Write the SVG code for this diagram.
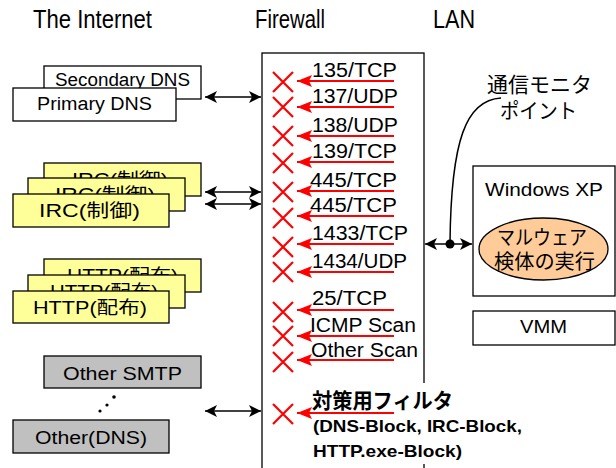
<svg xmlns="http://www.w3.org/2000/svg" xmlns:xlink="http://www.w3.org/1999/xlink" width="616" height="468" viewBox="0 0 616 468">
<style>
text{font-family:"Liberation Sans","Noto Sans CJK JP",sans-serif;fill:#000}
.title{font-size:25px}
.box{stroke:#000;stroke-width:1.3}
.w{fill:#fff}
.y{fill:#ffff99}
.g{fill:#c0c0c0}
.bt{font-size:18px;text-anchor:middle}
.lbl{font-size:20px}
.conn{stroke:#000;stroke-width:1.5;fill:none}
.red{stroke:#ff0000;stroke-width:2;fill:none}
</style>
<defs>
<marker id="ah" viewBox="0 0 12 12" refX="12" refY="6" markerWidth="12" markerHeight="12" markerUnits="userSpaceOnUse" orient="auto-start-reverse">
<path d="M0,0 L12,6 L0,12 L3,6 Z" fill="#000"/>
</marker>
<marker id="rh" viewBox="0 0 15 12" refX="15" refY="6" markerWidth="15" markerHeight="12" markerUnits="userSpaceOnUse" orient="auto">
<path d="M0,0 L15,6 L0,12 L3,6 Z" fill="#ff0000"/>
</marker>
<path id="xm" d="M-10,-10 L10,10 M10,-10 L-10,10" stroke="#ff0000" stroke-width="2.2" fill="none"/>
</defs>
<rect width="616" height="468" fill="#fff"/>

<g id="titles">
<text class="title" x="33" y="28" textLength="119" lengthAdjust="spacingAndGlyphs">The Internet</text>
<text class="title" x="255" y="28" textLength="70" lengthAdjust="spacingAndGlyphs">Firewall</text>
<text class="title" x="433" y="28" textLength="42" lengthAdjust="spacingAndGlyphs">LAN</text>
</g>

<g id="dns">
<rect class="box w" x="44" y="66" width="157" height="33"/>
<text class="bt" x="122.5" y="86" textLength="135" lengthAdjust="spacingAndGlyphs">Secondary DNS</text>
<rect class="box w" x="13" y="88" width="163" height="33"/>
<text class="bt" x="94.5" y="110" textLength="115" lengthAdjust="spacingAndGlyphs">Primary DNS</text>
</g>

<g id="irc">
<rect class="box y" x="44" y="163" width="157" height="33"/>
<text class="bt" x="120" y="186" textLength="96" lengthAdjust="spacingAndGlyphs">IRC(制御)</text>
<rect class="box y" x="28" y="178" width="157" height="33"/>
<text class="bt" x="105" y="201" textLength="100" lengthAdjust="spacingAndGlyphs">IRC(制御)</text>
<rect class="box y" x="13" y="194" width="156" height="33"/>
<text class="bt" x="89.5" y="217" textLength="101" lengthAdjust="spacingAndGlyphs">IRC(制御)</text>
</g>

<g id="http">
<rect class="box y" x="44" y="259" width="157" height="33"/>
<text class="bt" x="122.5" y="282" textLength="111" lengthAdjust="spacingAndGlyphs">HTTP(配布)</text>
<rect class="box y" x="28" y="275" width="157" height="33"/>
<text class="bt" x="104" y="298" textLength="108" lengthAdjust="spacingAndGlyphs">HTTP(配布)</text>
<rect class="box y" x="13" y="291" width="156" height="32"/>
<text class="bt" x="90" y="314" textLength="114" lengthAdjust="spacingAndGlyphs">HTTP(配布)</text>
</g>

<g id="other-smtp">
<rect class="box g" x="44" y="356" width="157" height="32"/>
<text class="bt" x="122.5" y="380" textLength="119" lengthAdjust="spacingAndGlyphs">Other SMTP</text>
</g>
<g id="ellipsis">
<circle cx="100" cy="411" r="1.6"/>
<circle cx="107" cy="405" r="1.6"/>
<circle cx="114" cy="397" r="1.8"/>
</g>
<g id="other-dns">
<rect class="box g" x="13" y="420" width="156" height="33"/>
<text class="bt" x="91" y="444" textLength="112" lengthAdjust="spacingAndGlyphs">Other(DNS)</text>
</g>

<g id="firewall">
<rect class="box w" x="262" y="53" width="162" height="430"/>
<rect x="308" y="383" width="232" height="81" fill="#fff"/>
</g>

<g id="filters">
<g>
<text class="lbl" x="312" y="77" textLength="85" lengthAdjust="spacingAndGlyphs">135/TCP</text>
<text class="lbl" x="312" y="103" textLength="86" lengthAdjust="spacingAndGlyphs">137/UDP</text>
<text class="lbl" x="312" y="132" textLength="86" lengthAdjust="spacingAndGlyphs">138/UDP</text>
<text class="lbl" x="312" y="158" textLength="85" lengthAdjust="spacingAndGlyphs">139/TCP</text>
<text class="lbl" x="310" y="187" textLength="87" lengthAdjust="spacingAndGlyphs">445/TCP</text>
<text class="lbl" x="310" y="212" textLength="87" lengthAdjust="spacingAndGlyphs">445/TCP</text>
<text class="lbl" x="312" y="240" textLength="96" lengthAdjust="spacingAndGlyphs">1433/TCP</text>
<text class="lbl" x="312" y="268" textLength="95" lengthAdjust="spacingAndGlyphs">1434/UDP</text>
<text class="lbl" x="312" y="305" textLength="75" lengthAdjust="spacingAndGlyphs">25/TCP</text>
<text class="lbl" x="310" y="332" textLength="106" lengthAdjust="spacingAndGlyphs">ICMP Scan</text>
<text class="lbl" x="311" y="357" textLength="107" lengthAdjust="spacingAndGlyphs">Other Scan</text>
<text x="312" y="408" font-size="21" font-weight="bold" textLength="141" lengthAdjust="spacingAndGlyphs">対策用フィルタ</text>
<text x="313" y="432" font-size="17" font-weight="bold" textLength="209" lengthAdjust="spacingAndGlyphs">(DNS-Block, IRC-Block,</text>
<text x="313" y="457" font-size="17" font-weight="bold" textLength="149" lengthAdjust="spacingAndGlyphs">HTTP.exe-Block)</text>
</g>
<g id="red-arrows">
<line class="red" x1="394" y1="81" x2="297" y2="81" marker-end="url(#rh)"/>
<line class="red" x1="394" y1="107" x2="297" y2="107" marker-end="url(#rh)"/>
<line class="red" x1="394" y1="136" x2="297" y2="136" marker-end="url(#rh)"/>
<line class="red" x1="394" y1="162" x2="297" y2="162" marker-end="url(#rh)"/>
<line class="red" x1="394" y1="191" x2="297" y2="191" marker-end="url(#rh)"/>
<line class="red" x1="394" y1="216" x2="297" y2="216" marker-end="url(#rh)"/>
<line class="red" x1="394" y1="244" x2="297" y2="244" marker-end="url(#rh)"/>
<line class="red" x1="394" y1="272" x2="297" y2="272" marker-end="url(#rh)"/>
<line class="red" x1="394" y1="310" x2="297" y2="310" marker-end="url(#rh)"/>
<line class="red" x1="394" y1="336" x2="297" y2="336" marker-end="url(#rh)"/>
<line class="red" x1="394" y1="360" x2="297" y2="360" marker-end="url(#rh)"/>
<line class="red" x1="394" y1="413" x2="297" y2="413" marker-end="url(#rh)"/>
</g>
<g id="blocks">
<use xlink:href="#xm" x="283" y="82"/>
<use xlink:href="#xm" x="283" y="107"/>
<use xlink:href="#xm" x="283" y="136"/>
<use xlink:href="#xm" x="283" y="163"/>
<use xlink:href="#xm" x="283" y="192"/>
<use xlink:href="#xm" x="283" y="218"/>
<use xlink:href="#xm" x="283" y="247"/>
<use xlink:href="#xm" x="283" y="272"/>
<use xlink:href="#xm" x="283" y="312"/>
<use xlink:href="#xm" x="283" y="336"/>
<use xlink:href="#xm" x="283" y="362"/>
<use xlink:href="#xm" x="283" y="414"/>
</g>
</g>

<g id="lan-monitor">
<text x="487" y="92" font-size="21" textLength="105" lengthAdjust="spacingAndGlyphs">通信モニタ</text>
<text x="500" y="118" font-size="21" textLength="77" lengthAdjust="spacingAndGlyphs">ポイント</text>
</g>

<g id="windows-xp">
<rect class="box w" x="473" y="166" width="142" height="130"/>
<text x="485" y="196" font-size="19" textLength="118" lengthAdjust="spacingAndGlyphs">Windows XP</text>
<ellipse cx="543.5" cy="249" rx="64.5" ry="31" fill="#ffcc99" stroke="#000" stroke-width="1.3"/>
<text x="497" y="245" font-size="20" textLength="90" lengthAdjust="spacingAndGlyphs">マルウェア</text>
<text x="494" y="269" font-size="20" textLength="101" lengthAdjust="spacingAndGlyphs">検体の実行</text>
</g>

<g id="vmm">
<rect class="box w" x="473" y="311" width="142" height="34"/>
<text x="520" y="333" font-size="19" textLength="47" lengthAdjust="spacingAndGlyphs">VMM</text>
</g>

<g id="connectors">
<line class="conn" x1="205" y1="97" x2="261" y2="97" marker-start="url(#ah)" marker-end="url(#ah)"/>
<line class="conn" x1="205" y1="192" x2="261" y2="192" marker-start="url(#ah)" marker-end="url(#ah)"/>
<line class="conn" x1="205" y1="204" x2="261" y2="204" marker-start="url(#ah)" marker-end="url(#ah)"/>
<line class="conn" x1="205" y1="411" x2="261" y2="411" marker-start="url(#ah)" marker-end="url(#ah)"/>
<line class="conn" x1="425" y1="244" x2="472" y2="244" marker-start="url(#ah)" marker-end="url(#ah)"/>
<path class="conn" d="M501,98 C466,100 451,140 450,243"/>
<circle cx="450" cy="244" r="4.5" fill="#000"/>
</g>
</svg>
